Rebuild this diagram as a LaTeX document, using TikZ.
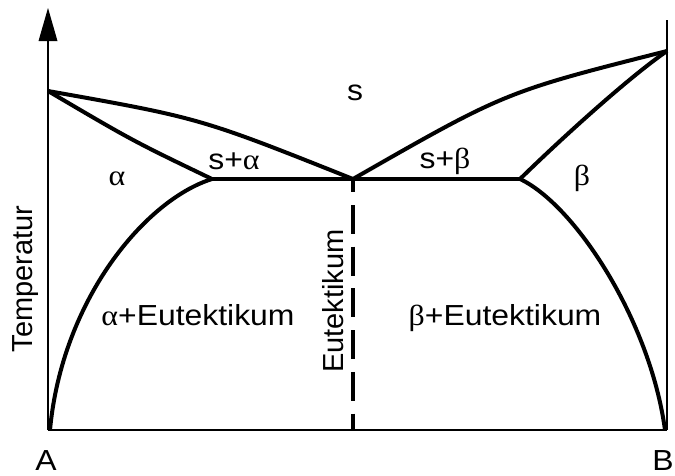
\documentclass[tikz,border=0pt]{standalone}
\usepackage{fontspec}
\usepackage{graphicx}
\setmainfont{Liberation Sans}
\newfontfamily\grk{Liberation Serif}
\newcommand{\hs}[1]{\scalebox{1.1}[1]{#1}}
\begin{document}
\begin{tikzpicture}[x=1pt,y=-1pt,
  curve/.style={line width=4pt, line join=round},
  axisline/.style={line width=1.5pt},
  lbl/.style={font=\fontsize{29}{34}\selectfont, inner sep=0pt},
]
\useasboundingbox (0,0) rectangle (675,475);
% key points
\coordinate (O) at (48,430);
\coordinate (Atop) at (48,41);
\coordinate (Tip) at (48,8);
\coordinate (Bbot) at (667,430);
\coordinate (Btop) at (667,20);
\coordinate (L) at (48,91);
\coordinate (R) at (667,51);
\coordinate (E) at (353,179);
\coordinate (P) at (212,179);
\coordinate (Q) at (520,179);
\coordinate (Lb) at (50,430);
\coordinate (Rb) at (665,430);
\coordinate (Eb) at (353,430);
% axes
\draw[axisline] (O) -- (Atop);
\fill (Tip) -- (57.5,41) -- (38.5,41) -- cycle;
\draw[axisline] (O) -- (Bbot);
\draw[axisline] (Bbot) -- (Btop);
% curves
\draw[curve] (L) .. controls (200,118) .. (E);
\draw[curve] (L) .. controls (133,141) .. (P);
\draw[curve] (P) .. controls (145,200) and (62,300) .. (Lb);
\draw[curve] (E) .. controls (505,92) .. (R);
\draw[curve] (R) .. controls (628,78) and (562,138) .. (Q);
\draw[curve] (Q) .. controls (575,205) and (650,320) .. (Rb);
\draw[line width=3.5pt] (P) -- (Q);
\draw[line width=4pt, dash pattern=on 29pt off 12.7pt, dash phase=15.7pt] (E) -- (Eb);
% labels
\node[lbl] (ls) at (355,93) {\hs{s}};
\node[lbl] (la) at (117,179) {\hs{\grk α}};
\node[lbl, anchor=base] (lsa) at (234,169) {\hs{s+{\grk α}}};
\node[lbl, anchor=base] (lsb) at (445,168) {\hs{s+{\grk β}}};
\node[lbl, anchor=base] (lb) at (582,185) {\hs{\grk β}};
\node[lbl, anchor=base] (lae) at (198,325) {\hs{{\grk α}+Eutektikum}};
\node[lbl, anchor=base] (lbe) at (505,325) {\hs{{\grk β}+Eutektikum}};
\node[lbl, anchor=base, rotate=90] (le) at (343,301) {Eutektikum};
\node[lbl, anchor=base, rotate=90] (lt) at (32,279) {Temperatur};
\node[lbl, anchor=base] (lA) at (46,470) {\hs{A}};
\node[lbl, anchor=base] (lB) at (663,470) {\hs{B}};
\end{tikzpicture}
\end{document}
